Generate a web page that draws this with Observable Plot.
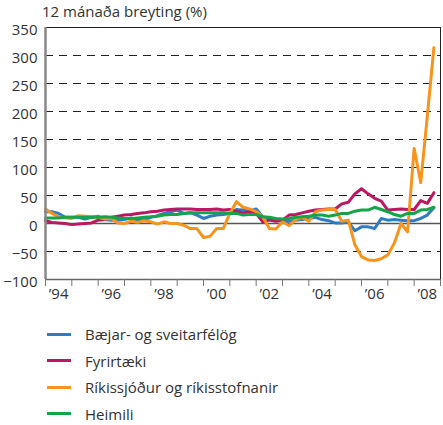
<!DOCTYPE html>
<html>
<head>
<meta charset="utf-8">
<script src="https://cdn.jsdelivr.net/npm/d3@7"></script>
<script src="https://cdn.jsdelivr.net/npm/@observablehq/plot@0.6"></script>
<style>
  body { margin:0; background:#fff; font-family:"Open Sans", sans-serif; color:#333; }
  #wrap { position:relative; width:443px; height:425px; }
  #title { position:absolute; left:42px; top:1px; font-size:15px; color:#333; }
  #chart { position:absolute; left:0; top:0; }
  #legend { position:absolute; left:47px; top:321px; font-size:15px; color:#333; }
  .row { height:26.5px; display:flex; align-items:center; }
  .sw { width:24px; height:3px; margin-right:14px; }
</style>
</head>
<body>
<div id="wrap">
  <div id="chart"></div>
  <div id="title">12 mánaða breyting (%)</div>
  <div id="legend"></div>
</div>
<script>
// Quarterly observations, 1994 Q1 .. 2008 Q4 (60 points)
const startYear = 1994;
const seriesNames = ["Bæjar- og sveitarfélög", "Fyrirtæki", "Ríkissjóður og ríkisstofnanir", "Heimili"];
const seriesColors = ["#2f7cc4", "#bc1862", "#f7941d", "#14a54b"];

const baejar = [21,21,18,11,11,11,8,11,13,7,6,6,7,10,6,7,11,14,18,21,24,18,19,15,9,13,15,16,18,25,24,22,26,12,9,7,3,4,6,7,9,11,7,5,1,1,3,-13,-6,-6,-9,9,6,7,6,5,5,9,15,28];
const fyrirtaeki = [5,2,1,0,-2,-1,0,1,6,7,11,13,15,16,18,19,21,22,24,25,26,26,26,25,25,25,26,24,25,22,19,21,18,3,6,4,6,15,16,19,22,24,25,26,26,35,38,53,62,53,45,40,24,25,26,25,25,41,36,55];
const rikis = [26,18,12,10,9,14,13,12,11,8,9,1,0,4,2,5,3,-1,3,0,0,-3,-9,-9,-25,-23,-9,-9,18,39,29,26,21,12,-9,-10,3,-4,7,11,4,21,24,25,25,4,6,-38,-59,-65,-66,-63,-56,-35,0,-15,134,73,192,314];
const heimili = [10,10,10,11,11,11,11,11,11,12,11,10,9,9,10,11,12,13,15,16,16,18,19,19,19,19,19,19,18,18,15,16,16,12,11,9,8,9,11,12,13,15,15,13,15,18,18,22,24,24,29,25,21,16,13,18,18,24,25,29];

const yTicks = [-100,-50,0,50,100,150,200,250,300,350];
const dashedLevels = [-50,50,100,150,200,250,300];
const yearTicks = [1994,1995,1996,1997,1998,1999,2000,2001,2002,2003,2004,2005,2006,2007,2008,2009];
const yearLabels = ["’94","’96","’98","’00","’02","’04","’06","’08"];
const labelYears = [1994,1996,1998,2000,2002,2004,2006,2008];

const allSeries = [baejar, fyrirtaeki, rikis, heimili];
const data = [];
allSeries.forEach((vals, s) => vals.forEach((v, i) => data.push({t: startYear + i/4, v, s: seriesNames[s]})));

const chart = Plot.plot({
  width: 443, height: 306,
  marginTop: 27, marginBottom: 27, marginLeft: 45, marginRight: 3,
  x: {domain: [1994, 2009]},
  y: {domain: [-100, 350]},
  color: {domain: seriesNames, range: seriesColors},
  style: {fontFamily: "Open Sans, sans-serif", fontSize: "15px", color: "#333", background: "transparent", overflow: "visible"},
  marks: [
    Plot.ruleY(dashedLevels, {stroke: "#222", strokeWidth: 1, strokeDasharray: "8,6"}),
    Plot.ruleY([0], {stroke: "#555", strokeWidth: 1.5}),
    Plot.line(data, {x: "t", y: "v", z: "s", stroke: "s", strokeWidth: 3, strokeLinejoin: "round"}),
    Plot.ruleY([350], {stroke: "#222", strokeWidth: 1}),
    Plot.ruleX([2009], {stroke: "#222", strokeWidth: 1}),
    Plot.ruleY([-100], {stroke: "#666", strokeWidth: 1.5}),
    Plot.ruleX([1994], {stroke: "#888", strokeWidth: 2.5}),
    Plot.axisY({ticks: yTicks, tickSize: 0, tickPadding: 8, label: null, dy: 3, fill: "#333"}),
    Plot.axisX({ticks: yearTicks, tickSize: 7, tickFormat: () => "", label: null, stroke: "#777"}),
    Plot.axisX({ticks: labelYears.map(y => y + 0.5), tickSize: 0, tickPadding: 9,
      tickFormat: d => yearLabels[labelYears.indexOf(Math.floor(d))], label: null, fill: "#333"})
  ]
});
document.getElementById("chart").appendChild(chart);

const legend = document.getElementById("legend");
seriesNames.forEach((n, i) => {
  const row = document.createElement("div");
  row.className = "row";
  row.innerHTML = `<span class="sw" style="background:${seriesColors[i]}"></span><span>${n}</span>`;
  legend.appendChild(row);
});
</script>
</body>
</html>
